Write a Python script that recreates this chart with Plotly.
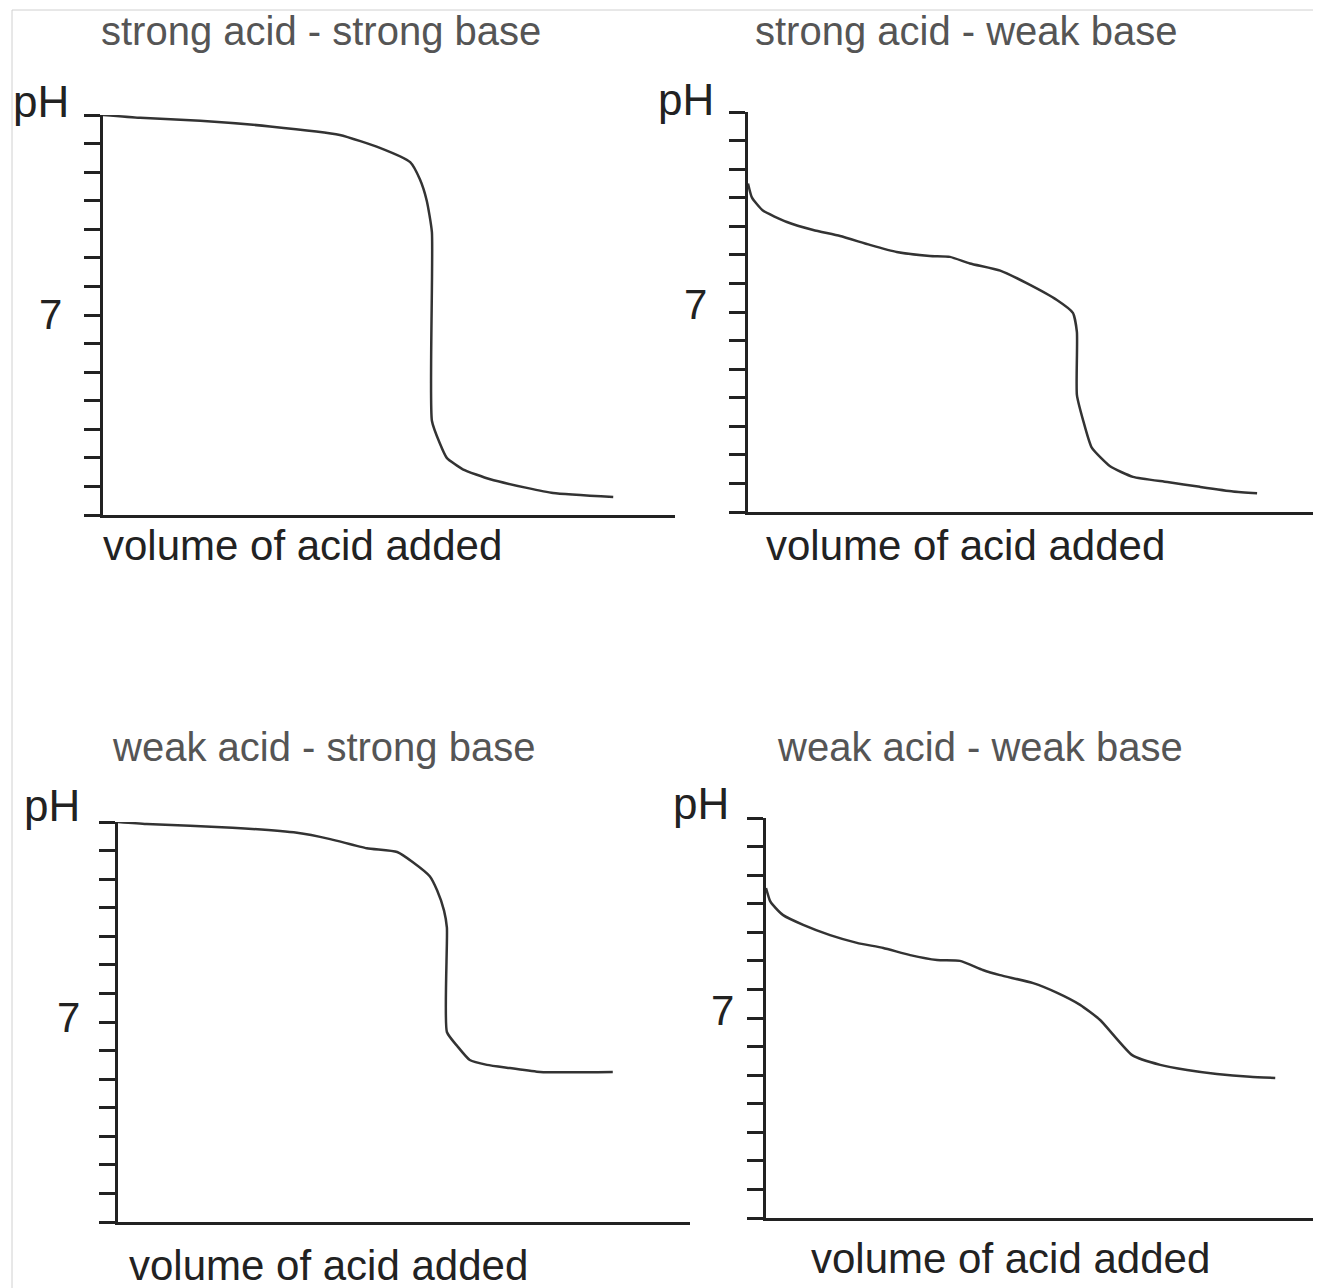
import plotly.graph_objects as go

# titration curves, volume of acid added (arbitrary units) vs pH
titles = ["strong acid - strong base", "strong acid - weak base",
          "weak acid - strong base", "weak acid - weak base"]

sa_sb_vol = [0, 6.5, 17.0, 29.2, 41.4, 48.4, 53.7, 55.4, 56.6, 57.5, 57.5, 58.9, 60.1, 62.9, 67.7, 74.1, 78.7, 89.2]
sa_sb_ph = [14.0, 13.9, 13.8, 13.6, 13.3, 12.85, 12.35, 11.75, 11.0, 9.9, 3.3, 2.5, 2.0, 1.6, 1.25, 0.95, 0.77, 0.63]

sa_wb_vol = [0, 0.7, 2.6, 6.8, 11.4, 16.1, 21.3, 26.0, 31.8, 35.3, 38.8, 44.1, 48.8, 54.0, 56.8, 57.5, 57.5,
             58.6, 60.1, 63.3, 67.3, 73.3, 79.0, 84.8, 89.0]
sa_wb_ph = [11.5, 11.0, 10.55, 10.15, 9.87, 9.66, 9.35, 9.1, 8.96, 8.93, 8.7, 8.45, 8.0, 7.42, 6.97, 6.3, 4.1,
            3.2, 2.25, 1.6, 1.23, 1.05, 0.88, 0.72, 0.66]

wa_sb_vol = [0, 5.0, 20.0, 31.3, 37.1, 43.5, 48.8, 51.5, 54.5, 55.8, 57.0, 57.5, 57.5,
             59.3, 61.5, 64.5, 68.5, 73.8, 86.5]
wa_sb_ph = [14.0, 13.93, 13.8, 13.62, 13.4, 13.08, 12.95, 12.6, 12.1, 11.6, 10.9, 10.3, 6.65,
            6.16, 5.67, 5.5, 5.39, 5.25, 5.25]

wa_wb_vol = [0, 0.7, 1.2, 3.0, 6.5, 11.2, 15.9, 20.5, 25.2, 29.9, 33.9, 37.9, 40.9, 46.7, 50.9, 54.9, 58.4,
             64.0, 68.9, 73.6, 78.8, 84.6, 89.0]
wa_wb_ph = [11.55, 11.1, 10.96, 10.6, 10.26, 9.9, 9.63, 9.45, 9.2, 9.03, 9.0, 8.68, 8.5, 8.22, 7.88, 7.46, 6.93,
            5.7, 5.36, 5.18, 5.04, 4.94, 4.9]

ph_ticks = list(range(0, 15))

W, H = 1321, 1288
OFF = 8  # page body margin pushes the plot 8px right/down
FONT = "Liberation Sans"
INK = "#222"


def fx(p):
    return (p - OFF) / W


def fy(p):
    return 1 - (p - OFF) / H


# pixel boxes of each panel: x0, x1, ytop, ybottom, x range end
panels = [
    (103, 675, 115, 515, 100),
    (748, 1320, 112, 512, 100),
    (118, 690, 822, 1222, 100),
    (766, 1321, 818, 1218, 97),
]
curves = [(sa_sb_vol, sa_sb_ph), (sa_wb_vol, sa_wb_ph), (wa_sb_vol, wa_sb_ph), (wa_wb_vol, wa_wb_ph)]

# label positions (pixel centres): title, pH, x label, "7"
labels = [
    ((321, 31), (41, 102), (302, 545), (50, 315)),
    ((966, 31), (686, 100), (965, 545), (695, 305)),
    ((323, 747), (52, 805), (328, 1265), (68, 1017)),
    ((980, 747), (701, 803), (1010, 1258), (722, 1010)),
]

fig = go.Figure()
layout = dict(
    width=W, height=H, margin=dict(l=0, r=0, t=0, b=0),
    paper_bgcolor="white", plot_bgcolor="white", showlegend=False,
    font=dict(family=FONT, color=INK),
    annotations=[], shapes=[],
)

for i, ((vol, ph), (x0, x1, yt, yb, xend)) in enumerate(zip(curves, panels)):
    n = "" if i == 0 else str(i + 1)
    fig.add_trace(go.Scatter(x=vol, y=ph, mode="lines", xaxis="x" + n, yaxis="y" + n,
                             line=dict(color="#333", width=2.5, shape="spline", smoothing=0.5),
                             cliponaxis=False, hoverinfo="skip"))
    layout["xaxis" + n] = dict(
        domain=[fx(x0), fx(x1)], range=[0, xend], anchor="y" + n,
        showline=True, linecolor=INK, linewidth=3, showgrid=False, zeroline=False,
        showticklabels=False, ticks="",
    )
    layout["yaxis" + n] = dict(
        domain=[fy(yb), fy(yt)], range=[0, 14], anchor="x" + n,
        showline=True, linecolor=INK, linewidth=3, showgrid=False, zeroline=False,
        tickvals=ph_ticks, ticks="outside", ticklen=16, tickwidth=2.5, tickcolor=INK,
        showticklabels=False,
    )
    (tx, ty), (px, py), (lx, ly), (sx, sy) = labels[i]
    layout["annotations"] += [
        dict(text=titles[i], x=fx(tx), y=fy(ty), xref="paper", yref="paper", showarrow=False,
             xanchor="center", yanchor="middle", font=dict(size=40, color="#555")),
        dict(text="pH", x=fx(px), y=fy(py), xref="paper", yref="paper", showarrow=False,
             xanchor="center", yanchor="middle", font=dict(size=44, color=INK)),
        dict(text="volume of acid added", x=fx(lx), y=fy(ly), xref="paper", yref="paper", showarrow=False,
             xanchor="center", yanchor="middle", font=dict(size=42, color=INK)),
        dict(text="7", x=fx(sx), y=fy(sy), xref="paper", yref="paper", showarrow=False,
             xanchor="center", yanchor="middle", font=dict(size=42, color=INK)),
    ]

# faint frame at top and left of the original image
layout["shapes"] += [
    dict(type="line", xref="paper", yref="paper", x0=fx(12), x1=1, y0=fy(10), y1=fy(10),
         line=dict(color="#d0d0d0", width=1)),
    dict(type="line", xref="paper", yref="paper", x0=fx(12), x1=fx(12), y0=fy(10), y1=0,
         line=dict(color="#d0d0d0", width=1)),
]

fig.update_layout(**layout)
fig.write_html("out.html")
